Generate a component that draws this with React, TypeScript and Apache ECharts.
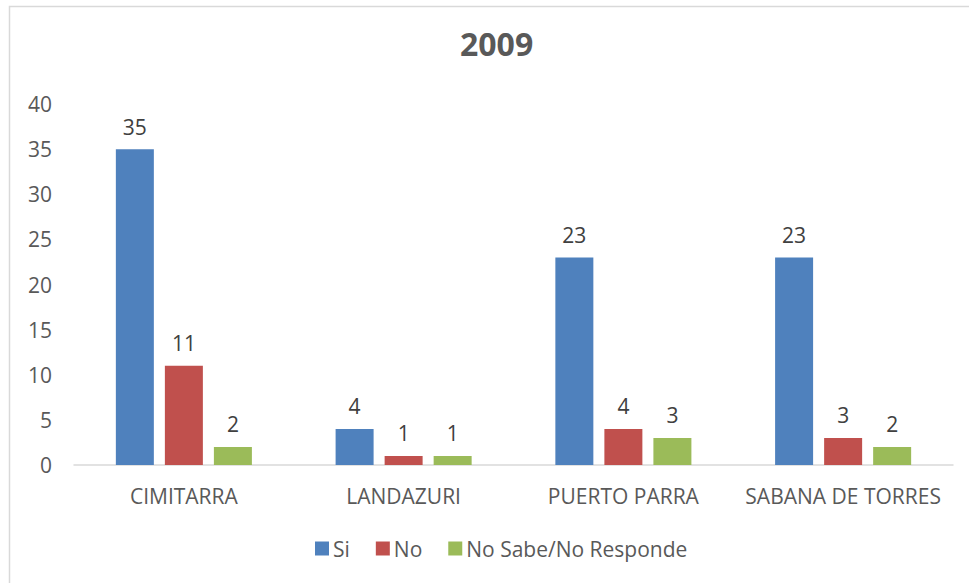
import React, { useEffect, useRef } from "react";
import * as echarts from "echarts";

const categories = ["CIMITARRA", "LANDAZURI", "PUERTO PARRA", "SABANA DE TORRES"];
const siValues = [35, 4, 23, 23];
const noValues = [11, 1, 4, 3];
const nsnrValues = [2, 1, 3, 2];
const seriesNames = ["Si", "No", "No Sabe/No Responde"];
const colors = ["#4f81bd", "#c0504d", "#9bbb59"];
const titleText = "2009";

const FONT = "'Open Sans', 'Noto Sans', sans-serif";

export default function App() {
  const ref = useRef<HTMLDivElement>(null);
  useEffect(() => {
    if (!ref.current) return;
    const chart = echarts.init(ref.current, undefined, { renderer: "svg" });
    const data = [siValues, noValues, nsnrValues];
    chart.setOption({
      animation: false,
      backgroundColor: "#ffffff",
      textStyle: { fontFamily: FONT },
      title: {
        text: titleText,
        left: 460,
        top: 27,
        padding: 0,
        textStyle: { fontFamily: FONT, fontSize: 32, fontWeight: "bold", color: "#595959" },
      },
      graphic: [
        {
          type: "rect",
          shape: { x: 9.5, y: 6.5, width: 1000, height: 1000 },
          style: { fill: "none", stroke: "#d9d9d9", lineWidth: 1.5 },
          silent: true,
        },
      ],
      legend: {
        bottom: 19,
        left: 310,
        itemWidth: 14,
        itemHeight: 14,
        itemGap: 26,
        icon: "rect",
        textStyle: { fontFamily: FONT, fontSize: 21, color: "#595959", padding: [0, 0, 0, -1] },
        data: seriesNames,
      },
      grid: { left: 74, right: 16, top: 104, bottom: 118, containLabel: false },
      xAxis: {
        type: "category",
        data: categories,
        axisLine: { lineStyle: { color: "#d9d9d9", width: 1.5 } },
        axisTick: { show: false },
        axisLabel: {
          fontFamily: FONT,
          fontSize: 21,
          color: "#595959",
          margin: 20,
          interval: 0,
          hideOverlap: false,
        },
      },
      yAxis: {
        type: "value",
        min: 0,
        max: 40,
        interval: 5,
        splitLine: { show: false },
        axisLine: { show: false },
        axisTick: { show: false },
        axisLabel: { fontFamily: FONT, fontSize: 21, color: "#595959", margin: 22 },
      },
      series: seriesNames.map((name, i) => ({
        name,
        type: "bar",
        data: data[i],
        barWidth: 38,
        barGap: "29%",
        itemStyle: { color: colors[i] },
        label: {
          show: true,
          position: "top",
          distance: 12,
          fontFamily: FONT,
          fontSize: 21,
          color: "#404040",
        },
      })),
    });
    return () => chart.dispose();
  }, []);
  return (
    <div
      ref={ref}
      style={{ position: "absolute", left: 0, top: 0, width: 969, height: 583 }}
    />
  );
}
